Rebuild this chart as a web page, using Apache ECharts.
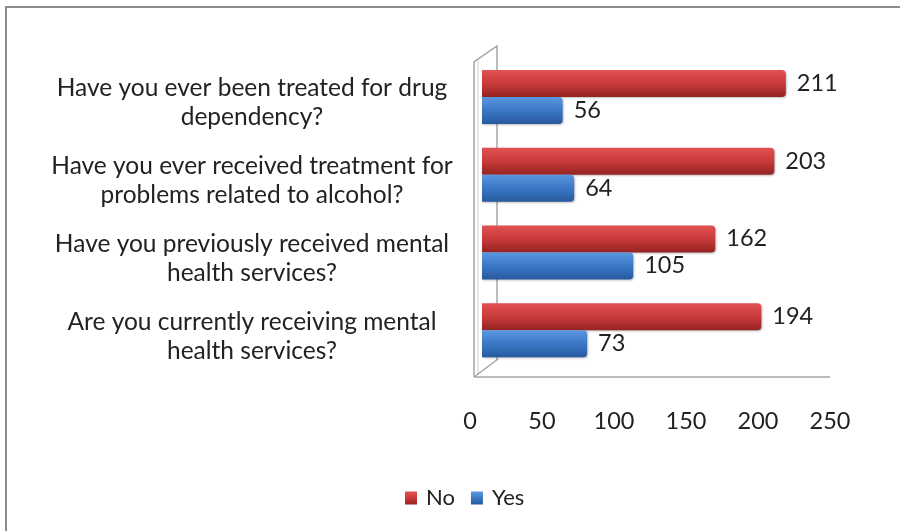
<!DOCTYPE html>
<html>
<head>
<meta charset="utf-8">
<script src="https://cdn.jsdelivr.net/npm/echarts@6/dist/echarts.min.js"></script>
<style>
html,body{margin:0;padding:0;background:#fff;overflow:hidden;}
#chart{width:900px;height:531px;}
</style>
</head>
<body>
<div id="chart"></div>
<script>
const categories = [
  "Have you ever been treated for drug\ndependency?",
  "Have you ever received treatment for\nproblems related to alcohol?",
  "Have you previously received mental\nhealth services?",
  "Are you currently receiving mental\nhealth services?"
];
const noValues = [211, 203, 162, 194];
const yesValues = [56, 64, 105, 73];
const xTicks = [0, 50, 100, 150, 200, 250];

const FONT = 'Lato';
const chart = echarts.init(document.getElementById('chart'), null, {renderer: 'canvas'});

const redGrad = new echarts.graphic.LinearGradient(0, 0, 0, 1, [
  {offset: 0, color: '#e25252'},
  {offset: 0.5, color: '#c93a3a'},
  {offset: 1, color: '#962323'}
]);
const blueGrad = new echarts.graphic.LinearGradient(0, 0, 0, 1, [
  {offset: 0, color: '#5b97e0'},
  {offset: 0.5, color: '#3a78c6'},
  {offset: 1, color: '#285a9e'}
]);

const option = {
  backgroundColor: '#ffffff',
  animation: false,
  graphic: [
    {type: 'polyline', shape: {points: [[6, 540], [6, 7], [900, 7]]}, style: {fill: 'none', stroke: '#8c8c8c', lineWidth: 2}, silent: true},
    {type: 'polyline', shape: {points: [[474, 377], [474, 62], [497, 46], [497, 360]]}, style: {fill: 'none', stroke: '#a6a6a6', lineWidth: 1.5}, silent: true, z: 0},
    {type: 'polyline', shape: {points: [[478, 375], [478, 60]]}, style: {fill: 'none', stroke: '#d0d0d0', lineWidth: 1}, silent: true, z: 0},
    {type: 'polyline', shape: {points: [[474, 377], [498, 359]]}, style: {fill: 'none', stroke: '#a6a6a6', lineWidth: 1.5}, silent: true, z: 0},
    {type: 'polyline', shape: {points: [[474, 377], [830, 377]]}, style: {fill: 'none', stroke: '#a6a6a6', lineWidth: 1.5}, silent: true, z: 0}
  ],
  legend: {
    data: ['No', 'Yes'],
    left: 400,
    top: 482,
    itemWidth: 12,
    itemHeight: 13,
    itemGap: 16,
    icon: 'rect',
    textStyle: {fontFamily: FONT, fontSize: 22, color: '#222', padding: [0, 0, 0, 4]}
  },
  grid: {left: 482, width: 360, top: 58, height: 311, containLabel: false},
  xAxis: {
    type: 'value',
    min: 0, max: 250, interval: 50,
    axisLine: {show: false},
    axisTick: {show: false},
    splitLine: {show: false},
    axisLabel: {
      margin: 40,
      padding: [0, 24, 0, 0],
      fontFamily: FONT, fontSize: 23.5, color: '#222',
      formatter: v => xTicks.includes(v) ? String(v) : ''
    }
  },
  yAxis: {
    type: 'category',
    data: categories,
    inverse: true,
    axisLine: {show: false},
    axisTick: {show: false},
    axisLabel: {
      interval: 0,
      margin: 230,
      align: 'center',
      formatter: v => '{s| }\n' + v.split('\n').map(l => '{t|' + l + '}').join('\n'),
      rich: {
        s: {fontSize: 4, lineHeight: 12, fontFamily: FONT},
        t: {fontSize: 24.5, lineHeight: 29, fontFamily: FONT, color: '#222', align: 'center'}
      },
      fontFamily: FONT, fontSize: 24.5, color: '#222'
    }
  },
  series: [
    {
      name: 'No', type: 'bar', data: noValues,
      barWidth: 27, barGap: '0%',
      itemStyle: {color: redGrad, borderRadius: [0, 4, 4, 0], shadowColor: 'rgba(0,0,0,0.25)', shadowBlur: 2, shadowOffsetX: 1, shadowOffsetY: 1},
      label: {show: true, position: 'right', distance: 11, fontFamily: FONT, fontSize: 23.5, color: '#222'}
    },
    {
      name: 'Yes', type: 'bar', data: yesValues,
      barWidth: 27, barGap: '0%',
      itemStyle: {color: blueGrad, borderRadius: [0, 4, 4, 0], shadowColor: 'rgba(0,0,0,0.25)', shadowBlur: 2, shadowOffsetX: 1, shadowOffsetY: 1},
      label: {show: true, position: 'right', distance: 11, fontFamily: FONT, fontSize: 23.5, color: '#222'}
    }
  ]
};
chart.setOption(option);
</script>
</body>
</html>
